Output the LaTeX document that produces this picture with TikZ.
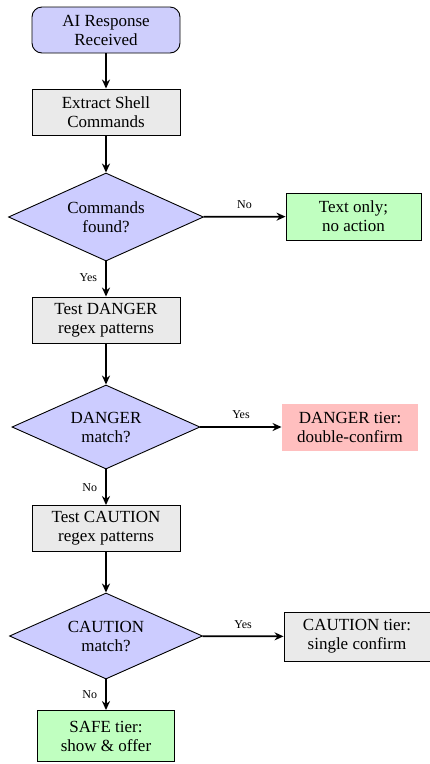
\documentclass[tikz,border=0pt]{standalone}
\usepackage{fontspec}
\setmainfont{Liberation Serif}
\usetikzlibrary{shapes.geometric,arrows.meta}
\definecolor{lav}{RGB}{206,206,252}
\definecolor{dia}{RGB}{204,204,255}
\definecolor{gry}{RGB}{234,234,234}
\definecolor{grn}{RGB}{192,255,192}
\definecolor{pnk}{RGB}{255,191,191}
\tikzset{
  base/.style={align=center, font=\fontsize{17}{19}\selectfont, inner sep=0pt, line width=0.9pt},
  startbox/.style={base, draw, fill=lav, rounded corners=10pt, minimum width=148pt, minimum height=46pt},
  procbox/.style={base, draw, fill=gry, minimum width=148pt, minimum height=46pt},
  decbox/.style={base, draw, fill=dia, diamond, aspect=2.2, minimum width=193pt, minimum height=86pt},
  conn/.style={line width=1.8pt, -{Stealth[length=9pt,width=8pt]}},
  lbl/.style={font=\fontsize{12}{14}\selectfont, inner sep=1pt}
}
\begin{document}
\begin{tikzpicture}[x=1pt,y=-1pt]
\useasboundingbox (0,0) rectangle (430,764);
\node[startbox] (start) at (106,30) {AI Response\\Received};
\node[procbox] (extract) at (106,112) {Extract Shell\\Commands};
\node[decbox, minimum width=195pt, minimum height=88pt] (found) at (106,217) {Commands\\found?};
\node[base, draw, fill=grn, minimum width=135pt, minimum height=47pt] (text) at (353.5,216.5) {Text only;\\no action};
\node[procbox] (tdanger) at (106,320) {Test DANGER\\regex patterns};
\node[decbox, minimum width=188pt, minimum height=84pt] (dmatch) at (106,427) {DANGER\\match?};
\node[base, fill=pnk, minimum width=136pt, minimum height=47pt] (dtier) at (350,427) {DANGER tier:\\double-confirm};
\node[procbox] (tcaution) at (106,528.5) {Test CAUTION\\regex patterns};
\node[decbox, minimum width=193pt, minimum height=86pt] (cmatch) at (106,636) {CAUTION\\match?};
\node[procbox, minimum width=146pt, minimum height=49pt] (ctier) at (357,636.5) {CAUTION tier:\\single confirm};
\node[base, draw, fill=grn, minimum width=137pt, minimum height=51pt] (safe) at (106,736) {SAFE tier:\\show \& offer};
\draw[conn] (start) -- (extract);
\draw[conn] (extract) -- (found);
\draw[conn] (found) -- node[lbl, above=6pt, pos=0.5] {No} (text);
\draw[conn] (found) -- node[lbl, left=7pt, pos=0.45] {Yes} (tdanger);
\draw[conn] (tdanger) -- (dmatch);
\draw[conn] (dmatch) -- node[lbl, above=6pt, pos=0.5] {Yes} (dtier);
\draw[conn] (dmatch) -- node[lbl, left=7pt, pos=0.5] {No} (tcaution);
\draw[conn] (tcaution) -- (cmatch);
\draw[conn] (cmatch) -- node[lbl, above=6pt, pos=0.5] {Yes} (ctier);
\draw[conn] (cmatch) -- node[lbl, left=7pt, pos=0.5] {No} (safe);
\end{tikzpicture}
\end{document}
